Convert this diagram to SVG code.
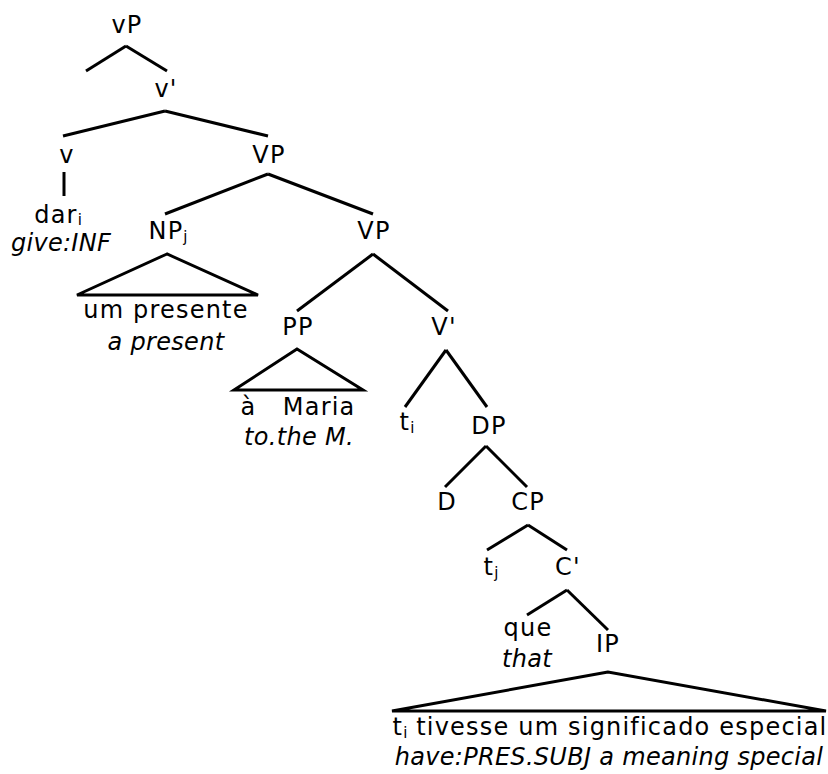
<svg xmlns="http://www.w3.org/2000/svg" width="828" height="774" viewBox="0 0 828 774">
<style>
text{font-family:"DejaVu Sans","Verdana",sans-serif;font-size:24px;fill:#000;text-anchor:middle;letter-spacing:1.2px}
.it{font-style:italic;letter-spacing:0.3px}
.sub{font-size:15px;letter-spacing:0}
line,polygon{stroke:#000;stroke-width:3;fill:none}
</style>
<rect width="828" height="774" fill="#fff"/>
<g id="connectors">
<line x1="126" y1="46" x2="86" y2="71"/>
<line x1="126" y1="46" x2="167" y2="71"/>
<line x1="165" y1="111" x2="63" y2="136"/>
<line x1="165" y1="111" x2="268" y2="136"/>
<line x1="64" y1="172" x2="64" y2="196"/>
<line x1="268" y1="174" x2="165" y2="214"/>
<line x1="268" y1="174" x2="373" y2="214"/>
<polygon points="167,254 77,295 258,295"/>
<line x1="373" y1="254" x2="297" y2="311"/>
<line x1="373" y1="254" x2="448" y2="311"/>
<polygon points="297,349 234,390 363,390"/>
<line x1="446" y1="350" x2="405" y2="407"/>
<line x1="446" y1="350" x2="487" y2="407"/>
<line x1="486" y1="446" x2="445" y2="487"/>
<line x1="486" y1="446" x2="527" y2="487"/>
<line x1="528" y1="525" x2="487" y2="550"/>
<line x1="528" y1="525" x2="567" y2="550"/>
<line x1="567" y1="590" x2="527" y2="615"/>
<line x1="567" y1="590" x2="608" y2="630"/>
<polygon points="608,672 392,711 826,711"/>
</g>
<g id="n-vP"><text x="127" y="33">vP</text></g>
<g id="n-vbar"><text x="166" y="97">v'</text></g>
<g id="n-v"><text x="67" y="163">v</text></g>
<g id="n-VP1"><text x="269" y="163">VP</text></g>
<g id="n-dar"><text x="58" y="223">dar<tspan class="sub" dy="2">i</tspan></text><text class="it" x="61" y="251">give:INF</text></g>
<g id="n-NP"><text x="168" y="239">NP<tspan class="sub" dy="3">j</tspan></text></g>
<g id="n-VP2"><text x="374" y="239">VP</text></g>
<g id="n-NPcontent"><text x="166" y="318">um presente</text><text class="it" x="166" y="350">a present</text></g>
<g id="n-PP"><text x="298" y="335">PP</text></g>
<g id="n-Vbar"><text x="444" y="335">V'</text></g>
<g id="n-PPcontent"><text x="298" y="415" xml:space="preserve">à   Maria</text><text class="it" x="299" y="445">to.the M.</text></g>
<g id="n-ti"><text x="407" y="430">t<tspan class="sub" dy="3">i</tspan></text></g>
<g id="n-DP"><text x="489" y="434">DP</text></g>
<g id="n-D"><text x="447" y="510">D</text></g>
<g id="n-CP"><text x="528" y="510">CP</text></g>
<g id="n-tj"><text x="491" y="575">t<tspan class="sub" dy="3">j</tspan></text></g>
<g id="n-Cbar"><text x="568" y="575">C'</text></g>
<g id="n-que"><text x="528" y="636">que</text><text class="it" x="527" y="667">that</text></g>
<g id="n-IP"><text x="608" y="652">IP</text></g>
<g id="n-IPcontent"><text x="610" y="735">t<tspan class="sub" dy="3">i</tspan><tspan dy="-3"> tivesse um significado especial</tspan></text><text class="it" x="609" y="765">have:PRES.SUBJ a meaning special</text></g>
</svg>
